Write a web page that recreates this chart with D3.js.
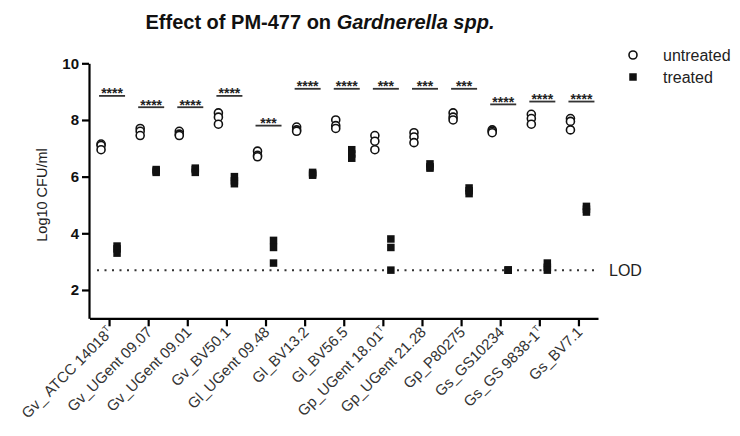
<!DOCTYPE html>
<html>
<head>
<meta charset="utf-8">
<script src="https://cdn.jsdelivr.net/npm/d3@7"></script>
<style>
  body { margin: 0; background: #fff; }
  svg { font-family: "Liberation Sans", Arial, sans-serif; }
</style>
</head>
<body>
<div class="canvas"></div>
<script>
// strains on the x axis (T = type strain, drawn as superscript)
const strains = ['Gv_ ATCC 14018', 'Gv_UGent 09.07', 'Gv_UGent 09.01', 'Gv_BV50.1', 'Gl_UGent 09.48',
  'Gl_BV13.2', 'Gl_BV56.5', 'Gp_UGent 18.01', 'Gp_UGent 21.28', 'Gp_P80275',
  'Gs_GS10234', 'Gs_GS 9838-1', 'Gs_BV7.1']
const typeStrains = ['Gv_ ATCC 14018', 'Gp_UGent 18.01', 'Gs_GS 9838-1']

// log10 CFU/ml, three replicates per strain
const untreated = [
  [7.15, 7.1, 6.95], [7.7, 7.6, 7.45], [7.6, 7.5, 7.45], [8.25, 8.1, 7.85], [6.9, 6.75, 6.7],
  [7.75, 7.65, 7.6], [8.0, 7.8, 7.7], [7.45, 7.25, 6.95], [7.55, 7.4, 7.2], [8.25, 8.1, 8.0],
  [7.65, 7.6, 7.55], [8.2, 8.05, 7.85], [8.05, 7.95, 7.65]
]
const treated = [
  [3.55, 3.45, 3.3], [6.25, 6.2, 6.15], [6.3, 6.25, 6.15], [6.0, 5.85, 5.75], [3.75, 3.5, 2.95],
  [6.15, 6.1, 6.05], [6.95, 6.8, 6.65], [3.8, 3.5, 2.7], [6.45, 6.35, 6.3], [5.6, 5.5, 5.4],
  [2.7, 2.7, 2.7], [2.95, 2.8, 2.7], [4.95, 4.85, 4.75]
]

// significance annotations
const stars = ['****', '****', '****', '****', '***', '****', '****', '***', '***', '***', '****', '****', '****']
const starLevel = [8.85, 8.45, 8.45, 8.85, 7.8, 9.1, 9.1, 9.1, 9.1, 9.1, 8.55, 8.65, 8.65]

const lod = 2.7
const yTicks = [2, 4, 6, 8, 10]

const svg = d3.select('.canvas')
  .append('svg')
  .attr('width', 740)
  .attr('height', 436)

const x = d3.scalePoint().domain(strains).range([89.5, 598]).padding(0.5)
const y = d3.scaleLinear().domain([1, 10]).range([318.3, 63.3])

// title
const title = svg.append('text')
  .attr('x', 320).attr('y', 29)
  .attr('text-anchor', 'middle')
  .attr('font-size', 20).attr('font-weight', 'bold')
  .attr('fill', '#111')
title.append('tspan').text('Effect of PM-477 on ')
title.append('tspan').attr('font-style', 'italic').text('Gardnerella spp.')

// y axis
const yAxisGroup = svg.append('g')
  .attr('transform', 'translate(89, 0)')
  .call(d3.axisLeft(y).tickValues(yTicks).tickSize(7).tickSizeOuter(0).tickPadding(3))
yAxisGroup.select('.domain').attr('stroke-width', 2.2)
yAxisGroup.selectAll('.tick line').attr('stroke-width', 2.2)
yAxisGroup.selectAll('text')
  .attr('font-size', 15).attr('font-weight', 'bold')
  .attr('font-family', '"Liberation Sans", Arial, sans-serif').attr('fill', '#111')

svg.append('text')
  .attr('transform', 'translate(47, 195) rotate(-90)')
  .attr('text-anchor', 'middle')
  .attr('font-size', 14.5).attr('fill', '#222')
  .text('Log10 CFU/ml')

// x axis
const xAxisGroup = svg.append('g')
  .attr('transform', 'translate(0, 318.3)')
  .call(d3.axisBottom(x).tickSize(8).tickSizeOuter(0).tickFormat(''))
xAxisGroup.select('.domain').attr('stroke-width', 2.2)
xAxisGroup.selectAll('.tick line').attr('stroke-width', 2.2)

const labels = svg.append('g').selectAll('text')
  .data(strains)
  .enter().append('text')
    .attr('transform', d => `translate(${x(d) + 5}, 333) rotate(-45)`)
    .attr('text-anchor', 'end')
    .attr('font-size', 15).attr('fill', '#333')
labels.append('tspan').text(d => d)
labels.filter(d => typeStrains.includes(d))
  .append('tspan').attr('font-size', 9).attr('dy', -6).text('T')

// LOD line
svg.append('line')
  .attr('x1', 97).attr('x2', 596)
  .attr('y1', y(lod)).attr('y2', y(lod))
  .attr('stroke', '#333').attr('stroke-width', 2)
  .attr('stroke-dasharray', '2,5.5')
svg.append('text')
  .attr('x', 609).attr('y', y(lod)).attr('dy', '0.35em')
  .attr('font-size', 16).attr('fill', '#222')
  .text('LOD')

// significance bars
const sig = svg.append('g')
strains.forEach((s, i) => {
  const cx = x(s) + 3
  sig.append('line')
    .attr('x1', cx - 13).attr('x2', cx + 13)
    .attr('y1', y(starLevel[i])).attr('y2', y(starLevel[i]))
    .attr('stroke', '#333').attr('stroke-width', 1.8)
  sig.append('text')
    .attr('x', cx).attr('y', y(starLevel[i]) + 2.5)
    .attr('text-anchor', 'middle')
    .attr('font-size', 14).attr('font-weight', 'bold').attr('fill', '#222')
    .text(stars[i])
})

// points
const pts = svg.append('g')
strains.forEach((s, i) => {
  pts.selectAll(null)
    .data(untreated[i])
    .enter().append('circle')
      .attr('cx', x(s) - 8)
      .attr('cy', d => y(d))
      .attr('r', 4)
      .attr('fill', 'white').attr('stroke', '#111').attr('stroke-width', 1.6)
  pts.selectAll(null)
    .data(treated[i])
    .enter().append('rect')
      .attr('x', x(s) + 8 - 3.75)
      .attr('y', d => y(d) - 3.75)
      .attr('width', 7.5).attr('height', 7.5)
      .attr('fill', '#111')
})

// legend
const legend = svg.append('g')
legend.append('circle')
  .attr('cx', 633).attr('cy', 55).attr('r', 4)
  .attr('fill', 'white').attr('stroke', '#111').attr('stroke-width', 1.6)
legend.append('rect')
  .attr('x', 629.25).attr('y', 73.25).attr('width', 7.5).attr('height', 7.5)
  .attr('fill', '#111')
legend.append('text').attr('x', 663).attr('y', 55).attr('dy', '0.35em')
  .attr('font-size', 16).attr('fill', '#222').text('untreated')
legend.append('text').attr('x', 663).attr('y', 77).attr('dy', '0.35em')
  .attr('font-size', 16).attr('fill', '#222').text('treated')
</script>
</body>
</html>
